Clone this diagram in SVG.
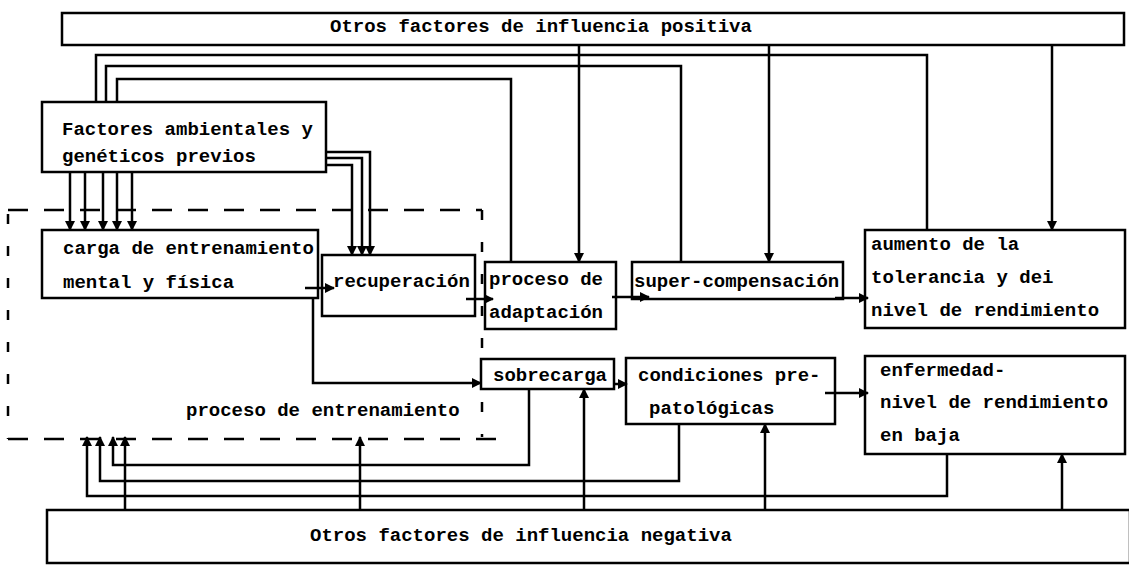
<svg xmlns="http://www.w3.org/2000/svg" width="1129" height="573" viewBox="0 0 1129 573">
<style>
.box{fill:#fff;stroke:#000;stroke-width:2.5}
.t{font-family:"Liberation Mono","DejaVu Sans Mono",monospace;font-size:19px;font-weight:bold;fill:#000}
.c{fill:none;stroke:#000;stroke-width:2.5}
.a{marker-end:url(#ah)}
.dh{fill:none;stroke:#000;stroke-width:2.5;stroke-dasharray:20 16}
.dv{fill:none;stroke:#000;stroke-width:2.5;stroke-dasharray:10 22}
</style>
<defs>
<marker id="ah" viewBox="0 0 10 10" refX="9" refY="5" markerWidth="10" markerHeight="10" markerUnits="userSpaceOnUse" orient="auto">
<path d="M0,0 L10,5 L0,10 z" fill="#000"/>
</marker>
</defs>
<rect width="1129" height="573" fill="#fff"/>

<g id="positive-factors">
<rect class="box" x="62" y="13" width="1062" height="32"/>
<text class="t" x="330" y="32">Otros factores de influencia positiva</text>
</g>

<g id="environmental-factors">
<rect class="box" x="42" y="102" width="284" height="70"/>
<text class="t" x="62" y="135">Factores ambientales y</text>
<text class="t" x="62" y="162">genéticos previos</text>
</g>

<g id="training-process">
<path class="dh" d="M8,210 H482"/>
<path class="dh" d="M8,439 H504"/>
<path class="dv" d="M8,214 V439"/>
<path class="dv" d="M482,210 V437"/>
<text class="t" x="186" y="416">proceso de entrenamiento</text>
</g>

<g id="training-load">
<rect class="box" x="42" y="230" width="276" height="68"/>
<text class="t" x="63" y="254">carga de entrenamiento</text>
<text class="t" x="63" y="288">mental y física</text>
</g>

<g id="recovery">
<rect class="box" x="322" y="255" width="153" height="61"/>
<text class="t" x="333" y="287">recuperación</text>
</g>

<g id="adaptation">
<rect class="box" x="485" y="262" width="131" height="67"/>
<text class="t" x="489" y="285">proceso de</text>
<text class="t" x="489" y="318">adaptación</text>
</g>

<g id="supercompensation">
<rect class="box" x="632" y="262" width="211" height="37"/>
<text class="t" x="634" y="287">super-compensación</text>
</g>

<g id="tolerance-increase">
<rect class="box" x="865" y="230" width="260" height="98"/>
<text class="t" x="871" y="250">aumento de la</text>
<text class="t" x="871" y="283">tolerancia y dei</text>
<text class="t" x="871" y="316">nivel de rendimiento</text>
</g>

<g id="overload">
<rect class="box" x="481" y="359" width="133" height="30"/>
<text class="t" x="493" y="381">sobrecarga</text>
</g>

<g id="prepathological">
<rect class="box" x="626" y="358" width="209" height="66"/>
<text class="t" x="638" y="381">condiciones pre-</text>
<text class="t" x="649" y="414">patológicas</text>
</g>

<g id="illness">
<rect class="box" x="865" y="356" width="260" height="98"/>
<text class="t" x="880" y="376">enfermedad-</text>
<text class="t" x="880" y="408">nivel de rendimiento</text>
<text class="t" x="880" y="441">en baja</text>
</g>

<g id="negative-factors">
<rect class="box" x="47" y="510" width="1083" height="53"/>
<text class="t" x="310" y="541">Otros factores de influencia negativa</text>
</g>

<g id="connectors">
<path class="c" d="M96,102 V55 H927 V230"/>
<path class="c" d="M106,102 V66 H681 V262"/>
<path class="c" d="M117,102 V79 H511 V262"/>
<path class="c a" d="M579,45 V262"/>
<path class="c a" d="M769,45 V262"/>
<path class="c a" d="M1052,45 V230"/>
<path class="c a" d="M70,172 V230"/>
<path class="c a" d="M85,172 V230"/>
<path class="c a" d="M103,172 V230"/>
<path class="c a" d="M117,172 V230"/>
<path class="c a" d="M132,172 V230"/>
<path class="c a" d="M326,152 H370 V255"/>
<path class="c a" d="M326,158 H362 V255"/>
<path class="c a" d="M326,165 H352 V255"/>
<path class="c a" d="M305,288 H334"/>
<path class="c a" d="M466,299 H493"/>
<path class="c a" d="M612,297 H649"/>
<path class="c a" d="M835,298 H868"/>
<path class="c a" d="M313,298 V383 H481"/>
<path class="c a" d="M614,384 H627"/>
<path class="c a" d="M825,393 H868"/>
<path class="c a" d="M529,389 V465 H113 V437"/>
<path class="c a" d="M679,424 V481 H100 V437"/>
<path class="c a" d="M947,454 V496 H87 V437"/>
<path class="c a" d="M125,510 V437"/>
<path class="c a" d="M360,510 V437"/>
<path class="c a" d="M584,510 V389"/>
<path class="c a" d="M765,510 V424"/>
<path class="c a" d="M1062,510 V454"/>
</g>
</svg>
